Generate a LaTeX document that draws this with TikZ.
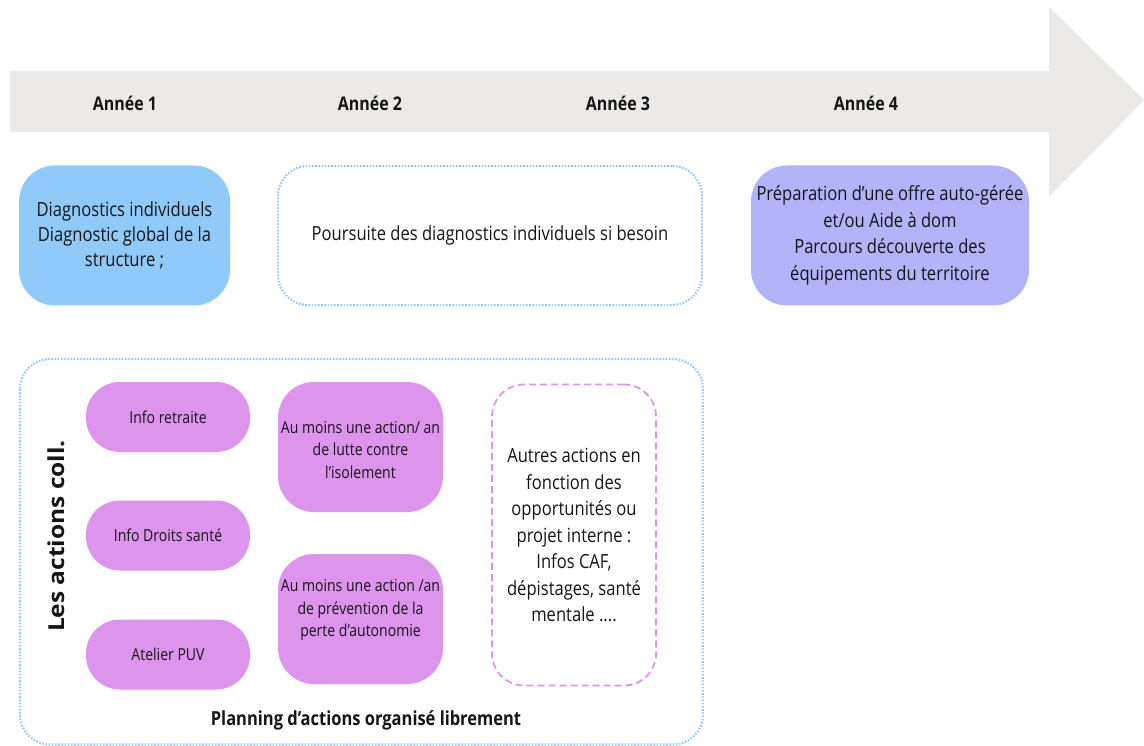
\documentclass[tikz,border=0pt]{standalone}
\usepackage{fontspec}
\setmainfont{Open Sans}[FakeStretch=0.85]
\newfontfamily\wideopen{Open Sans}
\definecolor{band}{HTML}{ECEAE9}
\definecolor{bluebox}{HTML}{90CAF9}
\definecolor{purplebox}{HTML}{B3B3FA}
\definecolor{pinkbox}{HTML}{DD94EC}
\definecolor{txt}{HTML}{151515}
\tikzset{
  year/.style={font=\fontsize{18.8}{22}\selectfont\bfseries, text=txt},
  bigtxt/.style={font=\fontsize{19.5}{26.5}\selectfont, text=txt, align=center},
  smalltxt/.style={font=\fontsize{16.5}{22.5}\selectfont, text=txt, align=center},
  dotbox/.style={draw=bluebox, line width=2.2pt, dash pattern=on 1.6pt off 1.6pt, rounded corners=30pt},
  pill/.style={fill=pinkbox, rounded corners=34pt, minimum width=164pt, minimum height=70pt, smalltxt},
  pinkbig/.style={fill=pinkbox, rounded corners=36pt, minimum width=165pt, minimum height=130pt},
}
\begin{document}
\begin{tikzpicture}[x=1pt,y=-1pt]
\useasboundingbox (0,0) rectangle (1144,746);
% timeline arrow
\fill[band] (10,71) -- (1049,71) -- (1049,7) -- (1144,100) -- (1049,197) -- (1049,132) -- (10,132) -- cycle;
\node[year] (y1) at (125,103) {Année 1};
\node[year] (y2) at (370,103) {Année 2};
\node[year] (y3) at (618,103) {Année 3};
\node[year] (y4) at (866,103) {Année 4};
% top row
\node[fill=bluebox, rounded corners=36pt, minimum width=211pt, minimum height=140pt, bigtxt, font=\fontsize{19.5}{25}\selectfont] (diag) at (124.5,235.5) {Diagnostics individuels\\Diagnostic global de la\\structure ;};
\node[dotbox, minimum width=424pt, minimum height=139pt, bigtxt] (pours) at (490,235.5) {Poursuite des diagnostics individuels si besoin};
\node[fill=purplebox, rounded corners=36pt, minimum width=278pt, minimum height=140pt, bigtxt] (prep) at (890,235.5) {Préparation d’une offre auto-gérée\\et/ou Aide à dom\\Parcours découverte des\\équipements du territoire};
% collective actions frame
\draw[dotbox] (20,359) rectangle (703,744.5);
\node[rotate=90, text=txt, inner sep=0pt] (coll) at (56,536) {\scalebox{1}[0.9]{\wideopen\fontsize{24.5}{28}\selectfont\bfseries Les actions coll.}};
\node[pill] (p1) at (168,417) {Info retraite};
\node[pill] (p2) at (168,535.5) {Info Droits santé};
\node[pill] (p3) at (168,654.5) {Atelier PUV};
\node[pinkbig] (b1) at (360.5,447) {};
\node[smalltxt] (t1) at (360.5,450) {Au moins une action/ an\\de lutte contre\\l’isolement};
\node[pinkbig] (b2) at (360.5,619) {};
\node[smalltxt] (t2) at (360.5,610) {Au moins une action /an\\de prévention de la\\perte d’autonomie};
\node[draw=pinkbox, line width=1.8pt, dash pattern=on 7pt off 4pt, rounded corners=32pt, minimum width=164pt, minimum height=301pt, bigtxt] (autres) at (574,535) {Autres actions en\\fonction des\\opportunités ou\\projet interne :\\Infos CAF,\\dépistages, santé\\mentale ....};
\node[font=\fontsize{19.4}{22}\selectfont\bfseries, text=txt] (plan) at (366,720) {Planning d’actions organisé librement};
\end{tikzpicture}
\end{document}
